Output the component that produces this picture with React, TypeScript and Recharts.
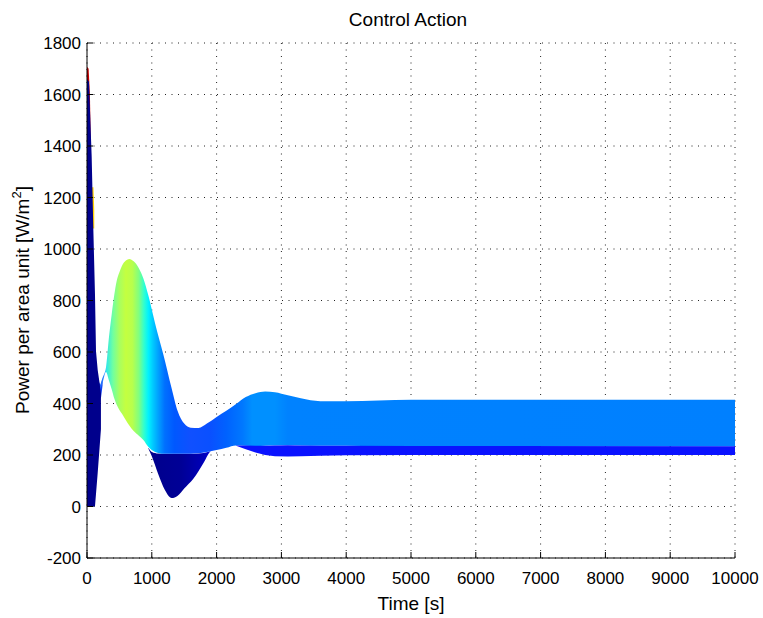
import { Area, CartesianGrid, ComposedChart, Label, XAxis, YAxis } from "recharts";

// ticks
const xTicks = [0, 1000, 2000, 3000, 4000, 5000, 6000, 7000, 8000, 9000, 10000];
const yTicks = [-200, 0, 200, 400, 600, 800, 1000, 1200, 1400, 1600, 1800];

// main coloured band (upper envelope / inner lower curve)
const mainTime = [190, 240, 293, 340, 381, 420, 458, 500, 540, 600, 653, 720, 800, 870, 946, 1050, 1180, 1300, 1400, 1500, 1600, 1720, 1850, 2000, 2150, 2300, 2450, 2600, 2750, 2900, 3100, 3300, 3600, 4000, 4500, 5000, 7500, 10000];
const mainHigh = [462, 500, 540, 660, 746, 820, 876, 910, 935, 955, 961, 952, 925, 885, 820, 712, 588, 465, 370, 322, 306, 305, 322, 348, 372, 398, 425, 440, 447, 444, 432, 420, 409, 409, 412, 415, 415, 415];
const mainLow = [445, 480, 522, 488, 455, 420, 395, 375, 360, 335, 315, 293, 275, 258, 232, 212, 205, 205, 205, 205, 205, 207, 212, 219, 228, 237, 236, 235, 236, 237, 238, 237, 236, 236, 235, 235, 234, 234];

// dark blue dip under the band
const dipTime = [946, 1000, 1100, 1200, 1307, 1400, 1500, 1641, 1800, 1898, 1960];
const dipLow = [225, 195, 125, 65, 33, 42, 70, 108, 170, 213, 222];
const dipHigh = [228, 212, 206, 205, 205, 205, 205, 205, 208, 215, 222];

// blue strip below the settled band
const stripTime = [2300, 2450, 2600, 2750, 2900, 3100, 3300, 3600, 4000, 5000, 10000];
const stripLow = [236, 222, 210, 200, 195, 194, 195, 197, 199, 200, 200];
const stripHigh = [237, 237, 236, 236, 237, 238, 237, 236, 236, 235, 234];

// initial spike
const spikeTime = [0, 30, 72, 97, 123, 139, 165, 190, 215];
const spikeLow = [0, 0, 0, 0, 0, 50, 130, 215, 300];
const spikeHigh = [1660, 1650, 1360, 1084, 826, 603, 530, 486, 440];

// thin blue link between spike and main band
const linkTime = [150, 190, 215, 240];
const linkLow = [430, 420, 420, 470];
const linkHigh = [520, 480, 470, 500];

const redTime = [0, 25, 45, 62];
const redLow = [1340, 1340, 1340, 1340];
const redHigh = [1708, 1700, 1600, 1370];

const yellowTime = [70, 100, 112];
const yellowLow = [1080, 1080, 1080];
const yellowHigh = [1240, 1240, 1150];

// colour along time for the main band
const colorTime = [190, 270, 300, 400, 500, 600, 700, 800, 880, 950, 1020, 1100, 1200, 1350, 1600, 1900, 2150, 2400, 2550, 2900, 3100, 10000];
const colorValue = ["#1a5cff", "#2a8cff", "#30e8e8", "#70ffa0", "#a8ff60", "#c4ff40", "#b8ff4c", "#80ff80", "#30ffd0", "#00f0ff", "#00c8ff", "#00a0ff", "#0070ff", "#0058ff", "#1050ff", "#0a50ff", "#0062ff", "#0078ff", "#0090ff", "#0090ff", "#0082ff", "#0080ff"];

const band = (t: number[], lo: number[], hi: number[]) =>
  t.map((v, i) => ({ t: v, range: [lo[i], hi[i]] }));

const mainData = band(mainTime, mainLow, mainHigh);
const dipData = band(dipTime, dipLow, dipHigh);
const stripData = band(stripTime, stripLow, stripHigh);
const spikeData = band(spikeTime, spikeLow, spikeHigh);
const linkData = band(linkTime, linkLow, linkHigh);
const redData = band(redTime, redLow, redHigh);
const yellowData = band(yellowTime, yellowLow, yellowHigh);

const FONT = "'Liberation Sans', Arial, Helvetica, sans-serif";
const X_MARGIN = 14;
const Y_MARGIN = 6;

const XTick = (props: any) => {
  const { x, y, payload } = props;
  const axisY = y - X_MARGIN;
  return (
    <g>
      <line x1={x} x2={x} y1={axisY} y2={axisY - 6} stroke="#000" />
      <text x={x} y={y} dy="0.72em" textAnchor="middle" fontSize={17} fontFamily={FONT} fill="#000">
        {payload.value}
      </text>
    </g>
  );
};

const YTick = (props: any) => {
  const { x, y, payload } = props;
  const axisX = x + Y_MARGIN;
  return (
    <g>
      <line x1={axisX} x2={axisX + 6} y1={y} y2={y} stroke="#000" />
      <text x={x} y={y} dy="0.36em" textAnchor="end" fontSize={17} fontFamily={FONT} fill="#000">
        {payload.value}
      </text>
    </g>
  );
};

const areaStyle = {
  stroke: "none",
  fillOpacity: 1,
  dot: false,
  activeDot: false,
  isAnimationActive: false,
} as const;

export default function App() {
  const span = mainTime[mainTime.length - 1] - mainTime[0];
  return (
    <div style={{ position: "absolute", left: 0, top: 0, width: 763, height: 618, background: "#fff" }}>
      <div
        style={{
          position: "absolute",
          left: 0,
          width: 816,
          top: 8,
          textAlign: "center",
          fontFamily: FONT,
          fontSize: 19,
          lineHeight: "24px",
          color: "#000",
        }}
      >
        Control Action
      </div>
      <ComposedChart width={763} height={618} margin={{ top: 43, right: 28, bottom: 0, left: 0 }}>
        <defs>
          <linearGradient id="mainFill" x1="0" y1="0" x2="1" y2="0">
            {colorTime.map((t, i) => (
              <stop key={i} offset={(t - mainTime[0]) / span} stopColor={colorValue[i]} />
            ))}
          </linearGradient>
          <linearGradient id="dipFill" x1="0" y1="0" x2="1" y2="0">
            <stop offset="0" stopColor="#00008c" />
            <stop offset="0.5" stopColor="#000096" />
            <stop offset="0.8" stopColor="#0000b4" />
            <stop offset="1" stopColor="#0000d8" />
          </linearGradient>
        </defs>
        <CartesianGrid stroke="#222" strokeDasharray="1 5.5" />
        <XAxis
          dataKey="t"
          type="number"
          domain={[0, 10000]}
          ticks={xTicks}
          allowDataOverflow
          height={60}
          tickSize={0}
          tickMargin={X_MARGIN}
          tick={<XTick />}
          tickLine={false}
          axisLine={{ stroke: "#000" }}
        >
          <Label
            content={() => (
              <text x={411} y={610} textAnchor="middle" fontSize={19} fontFamily={FONT} fill="#000">
                Time [s]
              </text>
            )}
          />
        </XAxis>
        <YAxis
          type="number"
          domain={[-200, 1800]}
          ticks={yTicks}
          allowDataOverflow
          width={87}
          tickSize={0}
          tickMargin={Y_MARGIN}
          tick={<YTick />}
          tickLine={false}
          axisLine={{ stroke: "#000" }}
        >
          <Label
            content={() => (
              <text transform="translate(29,300) rotate(-90)" textAnchor="middle" fontSize={19} fontFamily={FONT} fill="#000">
                Power per area unit [W/m
                <tspan dy={-8} fontSize={13}>2</tspan>
                <tspan dy={8}>]</tspan>
              </text>
            )}
          />
        </YAxis>
        <Area data={dipData} dataKey="range" type="monotone" fill="url(#dipFill)" {...areaStyle} />
        <Area data={linkData} dataKey="range" type="linear" fill="#1040f0" {...areaStyle} />
        <Area data={mainData} dataKey="range" type="monotone" fill="url(#mainFill)" {...areaStyle} />
        <Area data={stripData} dataKey="range" type="linear" fill="#0a12ff" {...areaStyle} />
        <Area data={redData} dataKey="range" type="linear" fill="#c80000" {...areaStyle} />
        <Area data={yellowData} dataKey="range" type="linear" fill="#ffd000" {...areaStyle} />
        <Area data={spikeData} dataKey="range" type="linear" fill="#00008c" {...areaStyle} />
      </ComposedChart>
    </div>
  );
}
